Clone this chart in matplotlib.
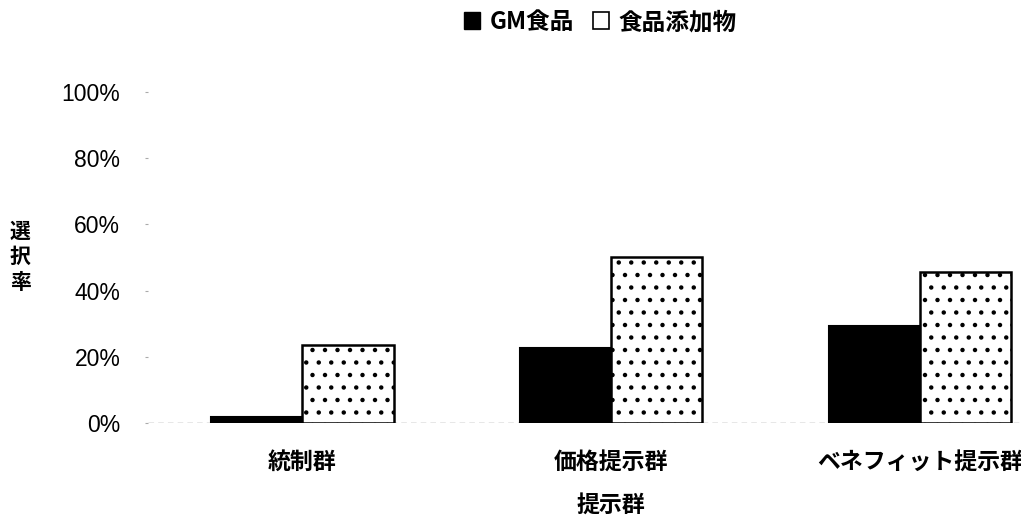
import matplotlib
matplotlib.use('Agg')
import matplotlib.pyplot as plt
import matplotlib.patches as mpatches
import matplotlib.hatch as mhatch
import numpy as np

plt.rcParams['font.family'] = ['Noto Sans CJK JP', 'DejaVu Sans']
plt.rcParams['font.weight'] = 'bold'
plt.rcParams['axes.labelweight'] = 'bold'
plt.rcParams['hatch.linewidth'] = 1.0


# a slightly denser dot pattern than the stock '.' hatch
class DenseDots(mhatch.Circles):
    size = 0.12
    filled = True

    def __init__(self, hatch, density):
        self.num_rows = int(round(hatch.count('.') * density * 1.3))
        super().__init__(hatch, density)


mhatch._hatch_types[:] = [DenseDots if t is mhatch.SmallFilledCircles else t
                          for t in mhatch._hatch_types]

groups = ['統制群', '価格提示群', 'ベネフィット提示群']
series = ['GM食品', '食品添加物']
gm_food = [1.8, 22.6, 29.2]
additive = [23.5, 50.3, 45.5]
yticks = [0, 20, 40, 60, 80, 100]

fig = plt.figure(figsize=(10.21, 5.24), dpi=100)
ax = fig.add_axes([0.145, 0.193, 0.855, 0.631])

x = np.arange(len(groups))
w = 0.295
ax.bar(x - w / 2, gm_food, w, color='black', edgecolor='black', linewidth=1.5)
ax.bar(x + w / 2, additive, w, color='white', edgecolor='black', linewidth=1.8, hatch='.')

ax.axhline(0, color='#888888', lw=1, ls=(0, (4, 3)), zorder=0)

ax.set_xlim(-0.5, 2.327)
ax.set_ylim(0, 100)
ax.set_yticks(yticks)
ax.set_yticklabels([f'{v}%' for v in yticks], fontsize=16.5, fontweight='normal',
                   family='Liberation Sans')
ax.set_xticks(x)
ax.set_xticklabels(groups, fontsize=16.5)
ax.tick_params(axis='y', length=2, color='#aaaaaa', pad=18)
ax.tick_params(axis='x', length=0, pad=20)
for s in ax.spines.values():
    s.set_visible(False)

ax.set_xlabel('提示群', fontsize=16.5)
ax.xaxis.set_label_coords((1 - (-0.5)) / 2.827, -0.215)
fig.text(0.02, 0.51, '選\n択\n率', fontsize=15, ha='center', va='center',
         linespacing=1.25)

handles = [mpatches.Patch(facecolor='black', edgecolor='black'),
           mpatches.Patch(facecolor='white', edgecolor='black', linewidth=1.2)]
fig.legend(handles, series, loc='center', bbox_to_anchor=(0.588, 0.958), ncol=2,
           frameon=False, fontsize=17, handlelength=0.7, handleheight=0.7,
           handletextpad=0.4, columnspacing=0.8)

fig.savefig('out.png', dpi=100)
